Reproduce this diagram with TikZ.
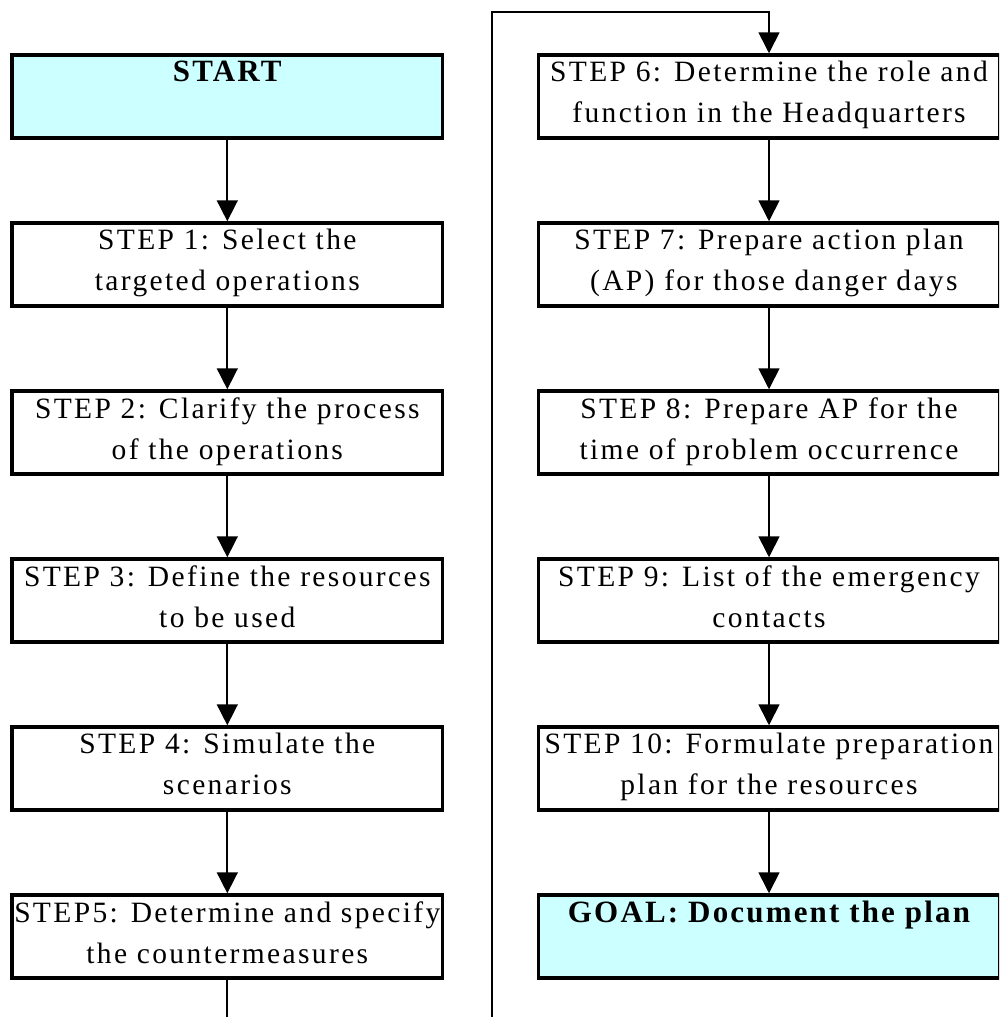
\documentclass[tikz,border=0pt]{standalone}
\usepackage{fontspec}
\setmainfont[LetterSpace=8]{Liberation Serif}
\newfontfamily\headfont[LetterSpace=7]{Liberation Serif}
\usetikzlibrary{arrows.meta}
\definecolor{boxcyan}{HTML}{CCFFFF}
\tikzset{
  stepbox/.style={draw=black, line width=3.5pt, fill=white, rectangle, inner sep=0pt},
  leftcol/.style={minimum width=430.5pt, minimum height=83pt},
  rightcol/.style={minimum width=461pt, minimum height=83pt},
  endbox/.style={stepbox, fill=boxcyan},
  steptext/.style={anchor=north, inner sep=0pt, align=center, font=\fontsize{29.5pt}{41pt}\selectfont},
  endtext/.style={anchor=north, inner sep=0pt, align=center, font=\headfont\fontsize{31pt}{41pt}\selectfont\bfseries},
  conn/.style={draw=black, line width=1.7pt, -{Triangle[length=21pt,width=21pt]}},
}
\begin{document}
\begin{tikzpicture}[x=1pt, y=-1pt]
\useasboundingbox (0,0) rectangle (999,1017);
\clip (0,0) rectangle (999,1017);

% left column
\node[endbox, leftcol]  (start) at (227.3, 96.5) {};
\node[stepbox, leftcol] (s1) at (227.3, 264.5) {};
\node[stepbox, leftcol] (s2) at (227.3, 432.5) {};
\node[stepbox, leftcol] (s3) at (227.3, 600.5) {};
\node[stepbox, leftcol] (s4) at (227.3, 768.5) {};
\node[stepbox, leftcol] (s5) at (227.3, 936.5) {};

% right column
\node[stepbox, rightcol] (s6)  at (769, 96.5) {};
\node[stepbox, rightcol] (s7)  at (769, 264.5) {};
\node[stepbox, rightcol] (s8)  at (769, 432.5) {};
\node[stepbox, rightcol] (s9)  at (769, 600.5) {};
\node[stepbox, rightcol] (s10) at (769, 768.5) {};
\node[endbox, rightcol]  (goal) at (769, 936.5) {};

% box texts, hung from the top edge
\node[endtext]  (tstart) at ([yshift=-8pt]start.north) {START};
\node[steptext] (t1) at ([yshift=-8pt]s1.north) {STEP 1: Select the\\targeted operations};
\node[steptext] (t2) at ([yshift=-8pt]s2.north) {STEP 2: Clarify the process\\of the operations};
\node[steptext] (t3) at ([yshift=-8pt]s3.north) {STEP 3: Define the resources\\to be used};
\node[steptext] (t4) at ([yshift=-8pt]s4.north) {STEP 4: Simulate the\\scenarios};
\node[steptext] (t5) at ([yshift=-8pt]s5.north) {STEP5: Determine and specify\\the countermeasures};
\node[steptext] (t6) at ([yshift=-8pt]s6.north) {STEP 6: Determine the role and\\function in the Headquarters};
\node[steptext] (t7) at ([yshift=-8pt]s7.north) {STEP 7: Prepare action plan\\\ (AP) for those danger days};
\node[steptext] (t8) at ([yshift=-8pt]s8.north) {STEP 8: Prepare AP for the\\time of problem occurrence};
\node[steptext] (t9) at ([yshift=-8pt]s9.north) {STEP 9: List of the emergency\\contacts};
\node[steptext] (t10) at ([yshift=-8pt]s10.north) {STEP 10: Formulate preparation\\plan for the resources};
\node[endtext]  (tgoal) at ([yshift=-8pt]goal.north) {GOAL: Document the plan};

% connectors
\draw[conn] (start.south) -- (s1.north);
\draw[conn] (s1.south) -- (s2.north);
\draw[conn] (s2.south) -- (s3.north);
\draw[conn] (s3.south) -- (s4.north);
\draw[conn] (s4.south) -- (s5.north);
\draw[conn] (s5.south) -- ++(0,80) -| (492,12) -| (s6.north);
\draw[conn] (s6.south) -- (s7.north);
\draw[conn] (s7.south) -- (s8.north);
\draw[conn] (s8.south) -- (s9.north);
\draw[conn] (s9.south) -- (s10.north);
\draw[conn] (s10.south) -- (goal.north);
\end{tikzpicture}
\end{document}
